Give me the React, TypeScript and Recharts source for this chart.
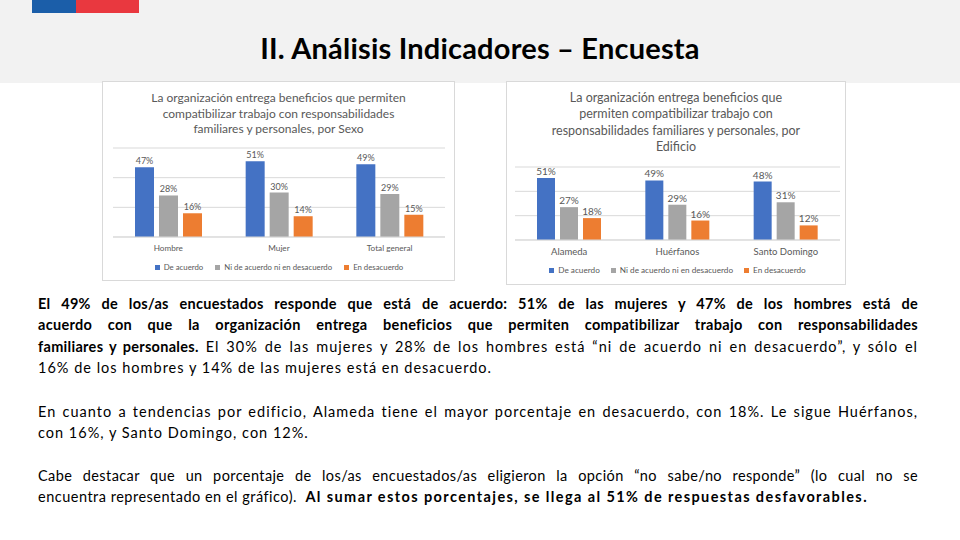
import React from 'react';
import { BarChart, Bar, XAxis, YAxis, CartesianGrid, Legend, LabelList } from 'recharts';

const sexCategories = ['Hombre', 'Mujer', 'Total general'];
const sexAcuerdo = [47, 51, 49];
const sexNi = [28, 30, 29];
const sexDesacuerdo = [16, 14, 15];

const edificioCategories = ['Alameda', 'Huérfanos', 'Santo Domingo'];
const edificioAcuerdo = [51, 49, 48];
const edificioNi = [27, 29, 31];
const edificioDesacuerdo = [18, 16, 12];

const seriesNames = ['De acuerdo', 'Ni de acuerdo ni en desacuerdo', 'En desacuerdo'];
const sexTicks = [0, 10, 20, 30, 40, 50, 60];
const edificioTicks = [0, 20, 40, 60];

const BLUE = '#4472c4';
const GRAY = '#a5a5a5';
const ORANGE = '#ed7d31';
const seriesColors = [BLUE, GRAY, ORANGE];
const TEXT = '#595959';
const FONT = 'Lato, "Open Sans", sans-serif';

const buildRows = (cats: string[], a: number[], n: number[], d: number[]) =>
  cats.map((name, i) => ({ name, acuerdo: a[i], ni: n[i], desacuerdo: d[i] }));

const sexData = buildRows(sexCategories, sexAcuerdo, sexNi, sexDesacuerdo);
const edificioData = buildRows(edificioCategories, edificioAcuerdo, edificioNi, edificioDesacuerdo);

// legend drawn in the series order (recharts sorts its payload by name)
const makeLegend = (fontSize: number, gap: number) => () => (
  <div style={{ display: 'flex', justifyContent: 'center', alignItems: 'center', height: 24, gap, fontSize, color: TEXT, fontFamily: FONT }}>
    {seriesNames.map((name, i) => (
      <span key={name} style={{ display: 'flex', alignItems: 'center' }}>
        <span style={{ display: 'inline-block', width: 5, height: 5, background: seriesColors[i], marginRight: 4 }} />
        {name}
      </span>
    ))}
  </div>
);

interface PanelProps {
  left: number;
  top: number;
  width: number;
  height: number;
  titleLines: string[];
  titleTop: number;
  titleLineHeight: number;
  titleFont: number;
  data: any[];
  ticks: number[];
  margin: { top: number; right: number; left: number; bottom: number };
  barSize: number;
  axisFont: number;
  labelFont: number;
  legendFont: number;
  legendGap: number;
}

const Panel: React.FC<PanelProps> = (p) => {
  const label = () => (
    <LabelList position="top" offset={3} formatter={(v: any) => `${v}%`}
      style={{ fill: TEXT, fontSize: p.labelFont, fontFamily: FONT }} />
  );
  return (
    <div style={{ position: 'absolute', left: p.left, top: p.top, width: p.width, height: p.height, background: '#fff', border: '1px solid #d9d9d9', boxSizing: 'border-box' }}>
      <div style={{ position: 'absolute', left: 0, top: p.titleTop, width: '100%', textAlign: 'center', color: TEXT, fontFamily: FONT, fontSize: p.titleFont, lineHeight: `${p.titleLineHeight}px` }}>
        {p.titleLines.map((t) => (
          <div key={t} style={{ whiteSpace: 'nowrap' }}>{t}</div>
        ))}
      </div>
      <div style={{ position: 'absolute', left: -1, top: -1 }}>
        <BarChart width={p.width} height={p.height} data={p.data} margin={p.margin} barGap={5} barSize={p.barSize}>
          <CartesianGrid vertical={false} stroke="#d9d9d9" />
          <XAxis dataKey="name" tickLine={false} axisLine={{ stroke: '#d9d9d9' }} height={18}
            tick={{ fill: TEXT, fontSize: p.axisFont, fontFamily: FONT }} />
          <YAxis hide domain={[0, 60]} ticks={p.ticks} />
          <Legend verticalAlign="bottom" height={24} content={makeLegend(p.legendFont, p.legendGap)} />
          <Bar dataKey="acuerdo" name={seriesNames[0]} fill={BLUE} isAnimationActive={false}>
            {label()}
          </Bar>
          <Bar dataKey="ni" name={seriesNames[1]} fill={GRAY} isAnimationActive={false}>
            {label()}
          </Bar>
          <Bar dataKey="desacuerdo" name={seriesNames[2]} fill={ORANGE} isAnimationActive={false}>
            {label()}
          </Bar>
        </BarChart>
      </div>
    </div>
  );
};

const lineStyle: React.CSSProperties = {
  position: 'absolute',
  left: 38,
  width: 880,
  fontFamily: FONT,
  fontSize: 14.5,
  lineHeight: '20px',
  color: '#000',
  textAlign: 'justify',
  textAlignLast: 'justify',
};

const Line: React.FC<{ y: number; last?: boolean; children: React.ReactNode }> = ({ y, last, children }) => (
  <div style={{ ...lineStyle, top: y - 10, textAlignLast: last ? 'left' : 'justify' }}>{children}</div>
);

const N: React.FC<{ ls?: number; children: React.ReactNode }> = ({ ls = 1, children }) => (
  <span style={{ letterSpacing: ls }}>{children}</span>
);
const B: React.FC<{ ls?: number; children: React.ReactNode }> = ({ ls = 0.3, children }) => (
  <b style={{ letterSpacing: ls }}>{children}</b>
);

const App: React.FC = () => (
  <div style={{ position: 'absolute', left: 0, top: 0, width: 960, height: 540, background: '#fff', overflow: 'hidden', fontFamily: FONT }}>
    <div style={{ position: 'absolute', left: 0, top: 0, width: 960, height: 83, background: '#f2f2f2' }} />
    <div style={{ position: 'absolute', left: 32, top: 0, width: 44, height: 13, background: '#1b5ea9' }} />
    <div style={{ position: 'absolute', left: 76, top: 0, width: 63, height: 13, background: '#e9383f' }} />
    <div style={{ position: 'absolute', left: 0, top: 30, width: 960, textAlign: 'center', fontSize: 29, fontWeight: 700, lineHeight: '36px', letterSpacing: 0.2, color: '#000' }}>
      II. Análisis Indicadores – Encuesta
    </div>

    <Panel left={102} top={81} width={353} height={200}
      titleLines={['La organización entrega beneficios que permiten', 'compatibilizar trabajo con responsabilidades', 'familiares y personales, por Sexo']}
      titleTop={8} titleLineHeight={15.5} titleFont={12}
      data={sexData} ticks={sexTicks}
      margin={{ top: 67, right: 10, left: 11, bottom: 2 }}
      barSize={19} axisFont={8.2} labelFont={9} legendFont={7.8} legendGap={12} />

    <Panel left={506} top={81} width={340} height={204}
      titleLines={['La organización entrega beneficios que', 'permiten compatibilizar trabajo con', 'responsabilidades familiares y personales, por', 'Edificio']}
      titleTop={8} titleLineHeight={16.3} titleFont={12.5}
      data={edificioData} ticks={edificioTicks}
      margin={{ top: 86, right: 6, left: 9, bottom: 3 }}
      barSize={18} axisFont={9.5} labelFont={10} legendFont={8.2} legendGap={11} />

    <Line y={304}><B>El 49% de los/as encuestados responde que está de acuerdo: 51% de las mujeres y 47% de los hombres está de</B></Line>
    <Line y={325}><B>acuerdo con que la organización entrega beneficios que permiten compatibilizar trabajo con responsabilidades</B></Line>
    <Line y={347}><B>familiares y personales.</B><N> El 30% de las mujeres y 28% de los hombres está “ni de acuerdo ni en desacuerdo”, y sólo el</N></Line>
    <Line y={368} last><N>16% de los hombres y 14% de las mujeres está en desacuerdo.</N></Line>

    <Line y={412}><N>En cuanto a tendencias por edificio, Alameda tiene el mayor porcentaje en desacuerdo, con 18%. Le sigue Huérfanos,</N></Line>
    <Line y={433} last><N>con 16%, y Santo Domingo, con 12%.</N></Line>

    <Line y={476}><N ls={0.4}>Cabe destacar que un porcentaje de los/as encuestados/as eligieron la opción “no sabe/no responde” (lo cual no se</N></Line>
    <Line y={497} last><N ls={0.5}>encuentra representado en el gráfico).&nbsp; </N><B ls={1.4}>Al sumar estos porcentajes, se llega al 51% de respuestas desfavorables.</B></Line>
  </div>
);

export default App;
